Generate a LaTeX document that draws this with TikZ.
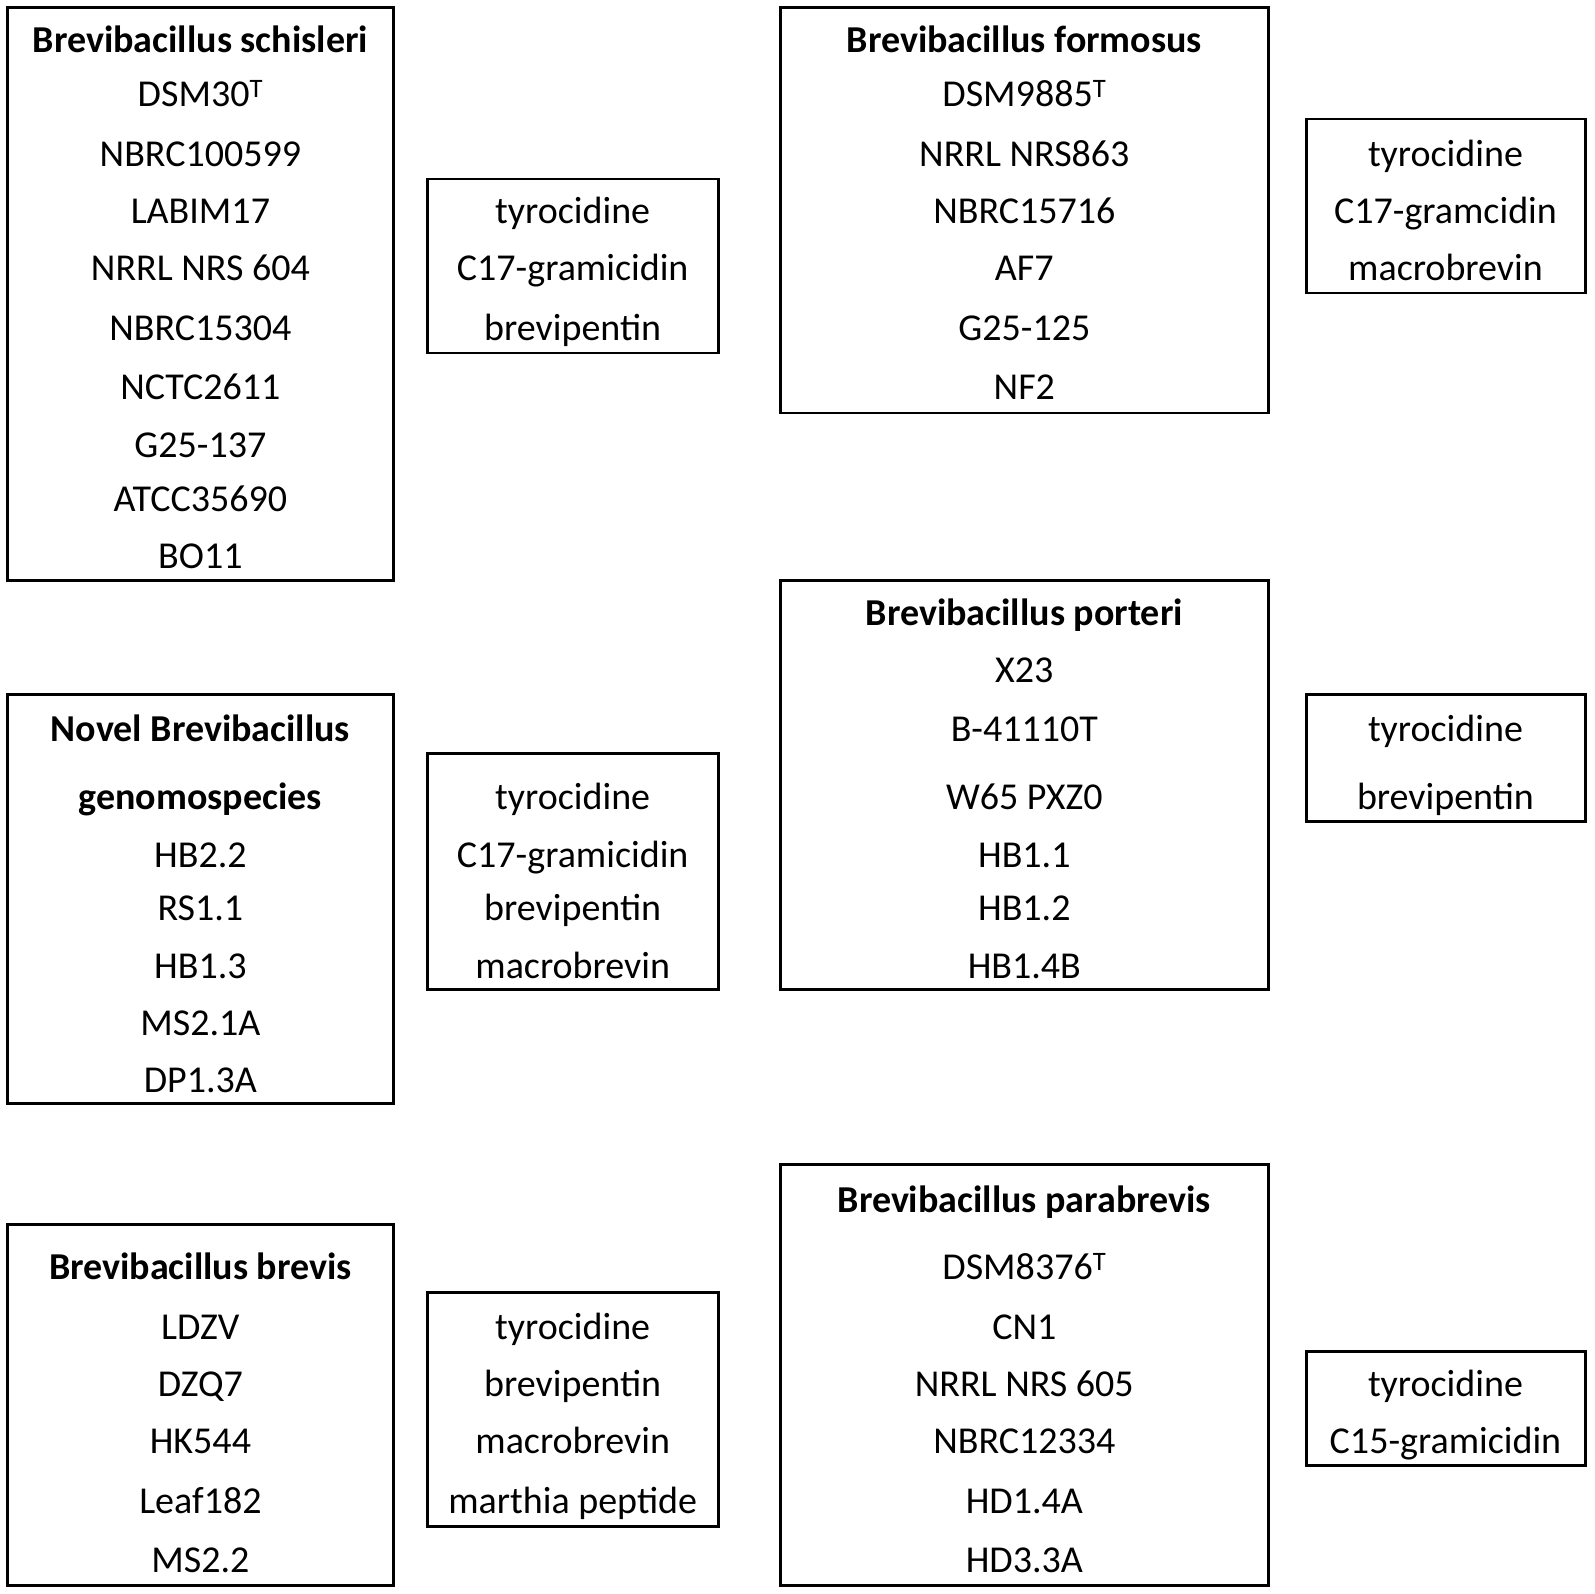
\documentclass[tikz,border=0pt]{standalone}
\usepackage{fontspec}
\setmainfont{Carlito}
\usetikzlibrary{fit}
\begin{document}
\begin{tikzpicture}[x=1.0172pt,y=-1.0172pt,
  box/.style={draw=black,line width=2.9pt,inner sep=0pt,fill=none},
  txt/.style={anchor=base,inner sep=0pt,font=\fontsize{38}{46}\selectfont},
  head/.style={txt,font=\fontsize{38}{46}\selectfont\bfseries}]
\useasboundingbox[fill=white] (0,0) rectangle (1568,1567);
% ---------- boxes
\node[box,fit={(7,7) (387,571)}] (s1) {};
\node[box,fit={(420,176) (706,347)}] (a1) {};
\node[box,fit={(767,7) (1247,406)}] (f1) {};
\node[box,fit={(1284,117) (1559,288)}] (a2) {};
\node[box,fit={(7,683) (387,1085)}] (n1) {};
\node[box,fit={(420,741) (706,973)}] (a3) {};
\node[box,fit={(767,571) (1247,973)}] (p1) {};
\node[box,fit={(1284,683) (1559,808)}] (a4) {};
\node[box,fit={(7,1204) (387,1559)}] (b1) {};
\node[box,fit={(420,1271) (706,1501)}] (a5) {};
\node[box,fit={(767,1145) (1247,1559)}] (pb1) {};
\node[box,fit={(1284,1329) (1559,1441)}] (a6) {};
% ---------- schisleri
\node[head] (s1h) at (197,52) {Brevibacillus schisleri};
\node[txt] (s1a) at (197,105) {DSM30\textsuperscript{T}};
\node[txt] (s1b) at (197,164) {NBRC100599};
\node[txt] (s1c) at (197,220) {LABIM17};
\node[txt] (s1d) at (197,276) {NRRL NRS 604};
\node[txt] (s1e) at (197,335) {NBRC15304};
\node[txt] (s1f) at (197,393) {NCTC2611};
\node[txt] (s1g) at (197,450) {G25-137};
\node[txt] (s1i) at (197,503) {ATCC35690};
\node[txt] (s1j) at (197,559) {BO11};
% ---------- a1
\node[txt] (a1a) at (563,220) {tyrocidine};
\node[txt] (a1b) at (563,276) {C17-gramicidin};
\node[txt] (a1c) at (563,335) {brevipentin};
% ---------- formosus
\node[head] (f1h) at (1007,52) {Brevibacillus formosus};
\node[txt] (f1a) at (1007,105) {DSM9885\textsuperscript{T}};
\node[txt] (f1b) at (1007,164) {NRRL NRS863};
\node[txt] (f1c) at (1007,220) {NBRC15716};
\node[txt] (f1d) at (1007,276) {AF7};
\node[txt] (f1e) at (1007,335) {G25-125};
\node[txt] (f1f) at (1007,393) {NF2};
% ---------- a2
\node[txt] (a2a) at (1421,164) {tyrocidine};
\node[txt] (a2b) at (1421,220) {C17-gramcidin};
\node[txt] (a2c) at (1421,276) {macrobrevin};
% ---------- novel
\node[head] (n1h) at (197,729) {Novel Brevibacillus};
\node[head] (n1i) at (197,796) {genomospecies};
\node[txt] (n1a) at (197,853) {HB2.2};
\node[txt] (n1b) at (197,905) {RS1.1};
\node[txt] (n1c) at (197,962) {HB1.3};
\node[txt] (n1d) at (197,1018) {MS2.1A};
\node[txt] (n1e) at (197,1074) {DP1.3A};
% ---------- a3
\node[txt] (a3a) at (563,796) {tyrocidine};
\node[txt] (a3b) at (563,853) {C17-gramicidin};
\node[txt] (a3c) at (563,905) {brevipentin};
\node[txt] (a3d) at (563,962) {macrobrevin};
% ---------- porteri
\node[head] (p1h) at (1007,615) {Brevibacillus porteri};
\node[txt] (p1a) at (1007,671) {X23};
\node[txt] (p1b) at (1007,729) {B-41110T};
\node[txt] (p1c) at (1007,796) {W65 PXZ0};
\node[txt] (p1d) at (1007,853) {HB1.1};
\node[txt] (p1e) at (1007,905) {HB1.2};
\node[txt] (p1f) at (1007,962) {HB1.4B};
% ---------- a4
\node[txt] (a4a) at (1421,729) {tyrocidine};
\node[txt] (a4b) at (1421,796) {brevipentin};
% ---------- brevis
\node[head] (b1h) at (197,1258) {Brevibacillus brevis};
\node[txt] (b1a) at (197,1317) {LDZV};
\node[txt] (b1b) at (197,1373) {DZQ7};
\node[txt] (b1c) at (197,1429) {HK544};
\node[txt] (b1d) at (197,1488) {Leaf182};
\node[txt] (b1e) at (197,1546) {MS2.2};
% ---------- a5
\node[txt] (a5a) at (563,1317) {tyrocidine};
\node[txt] (a5b) at (563,1373) {brevipentin};
\node[txt] (a5c) at (563,1429) {macrobrevin};
\node[txt] (a5d) at (563,1488) {marthia peptide};
% ---------- parabrevis
\node[head] (pb1h) at (1007,1192) {Brevibacillus parabrevis};
\node[txt] (pb1a) at (1007,1258) {DSM8376\textsuperscript{T}};
\node[txt] (pb1b) at (1007,1317) {CN1};
\node[txt] (pb1c) at (1007,1373) {NRRL NRS 605};
\node[txt] (pb1d) at (1007,1429) {NBRC12334};
\node[txt] (pb1e) at (1007,1488) {HD1.4A};
\node[txt] (pb1f) at (1007,1546) {HD3.3A};
% ---------- a6
\node[txt] (a6a) at (1421,1373) {tyrocidine};
\node[txt] (a6b) at (1421,1429) {C15-gramicidin};
\end{tikzpicture}
\end{document}
